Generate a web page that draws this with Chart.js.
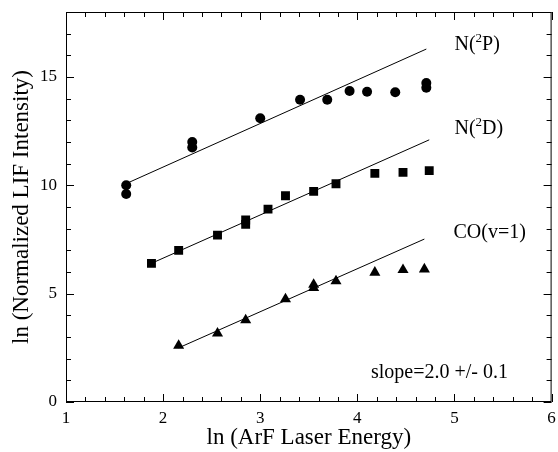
<!DOCTYPE html>
<html>
<head>
<meta charset="utf-8">
<script src="https://cdn.jsdelivr.net/npm/chart.js@4.4.1/dist/chart.umd.min.js"></script>
<style>
  html, body { margin: 0; padding: 0; background: #fff; }
  #wrap { width: 558px; height: 452px; }
</style>
</head>
<body>
<div id="wrap"><canvas id="myChart"></canvas></div>
<script>
// N(2P) circles
var n2pX = [1.62, 1.62, 2.30, 2.30, 3.00, 3.41, 3.69, 3.92, 4.10, 4.39, 4.71, 4.71];
var n2pY = [10.0, 9.6, 12.0, 11.75, 13.1, 13.95, 13.95, 14.35, 14.32, 14.3, 14.72, 14.5];
// N(2D) squares
var n2dX = [1.88, 2.16, 2.56, 2.85, 2.85, 3.08, 3.26, 3.55, 3.78, 4.18, 4.47, 4.74];
var n2dY = [6.4, 7.0, 7.7, 8.4, 8.2, 8.9, 9.52, 9.72, 10.07, 10.55, 10.6, 10.68];
// CO(v=1) triangles
var coX = [2.16, 2.56, 2.85, 3.26, 3.55, 3.55, 3.78, 4.18, 4.47, 4.69];
var coY = [2.6, 3.17, 3.78, 4.75, 5.27, 5.42, 5.58, 5.98, 6.1, 6.13];
// fitted lines (end points)
var fitPX = [1.62, 4.71], fitPY = [10.08, 16.29];
var fitDX = [1.88, 4.74], fitDY = [6.4, 12.1];
var fitCX = [2.16, 4.69], fitCY = [2.5, 7.52];

var xTitle = 'ln (ArF Laser Energy)';
var yTitle = 'ln (Normalized LIF Intensity)';

function pts(xs, ys) {
  return xs.map(function (x, i) { return { x: x, y: ys[i] }; });
}

var serif = '"Liberation Serif", "Times New Roman", serif';

// draw "N(" + superscript + "P)" style label
function supLabel(c, pre, sup, post, x, y) {
  c.font = '20px ' + serif;
  c.fillText(pre, x, y);
  x += c.measureText(pre).width;
  c.font = '13px ' + serif;
  c.fillText(sup, x, y - 6);
  x += c.measureText(sup).width;
  c.font = '20px ' + serif;
  c.fillText(post, x, y);
}

const framePlugin = {
  id: 'frame',
  afterDraw(chart) {
    const c = chart.ctx;
    const xs = chart.scales.x, ys = chart.scales.y;
    const a = chart.chartArea;
    c.save();
    c.strokeStyle = '#000';
    c.lineWidth = 1;
    c.strokeRect(a.left + 0.5, a.top + 0.5, a.right - a.left - 1, a.bottom - a.top - 1);
    c.beginPath();
    for (let i = 0; i <= 25; i++) {
      const v = 1 + i * 0.2;
      const px = Math.round(xs.getPixelForValue(v)) + 0.5;
      const len = (i % 5 === 0) ? 8 : 5;
      c.moveTo(px, a.bottom); c.lineTo(px, a.bottom - len);
      c.moveTo(px, a.top); c.lineTo(px, a.top + len);
    }
    for (let v = 0; v <= 18; v++) {
      const py = Math.round(ys.getPixelForValue(v)) + 0.5;
      const len = (v % 5 === 0) ? 8 : 5;
      c.moveTo(a.left, py); c.lineTo(a.left + len, py);
      c.moveTo(a.right, py); c.lineTo(a.right - len, py);
    }
    c.stroke();
    // text labels
    c.fillStyle = '#000';
    c.textBaseline = 'middle';
    c.textAlign = 'left';
    supLabel(c, 'N(', '2', 'P)', xs.getPixelForValue(5.0), ys.getPixelForValue(16.5));
    supLabel(c, 'N(', '2', 'D)', xs.getPixelForValue(5.0), ys.getPixelForValue(12.6));
    c.font = '20px ' + serif;
    c.fillText('CO(v=1)', xs.getPixelForValue(4.99), ys.getPixelForValue(7.8));
    c.fillText('slope=2.0 +/- 0.1', xs.getPixelForValue(4.14), ys.getPixelForValue(1.33));
    c.restore();
  }
};

const ctx = document.getElementById('myChart').getContext('2d');
const myChart = new Chart(ctx, {
  type: 'scatter',
  data: {
    datasets: [
      { label: 'N(2P)', data: pts(n2pX, n2pY), pointStyle: 'circle', pointRadius: 5,
        backgroundColor: '#000', borderColor: '#000', borderWidth: 0 },
      { label: 'N(2D)', data: pts(n2dX, n2dY), pointStyle: 'rect', pointRadius: 6.3,
        backgroundColor: '#000', borderColor: '#000', borderWidth: 0 },
      { label: 'CO(v=1)', data: pts(coX, coY), pointStyle: 'triangle', pointRadius: 6.4,
        backgroundColor: '#000', borderColor: '#000', borderWidth: 0 },
      { type: 'line', label: 'fit P', data: pts(fitPX, fitPY), showLine: true, pointRadius: 0,
        borderColor: '#000', borderWidth: 1 },
      { type: 'line', label: 'fit D', data: pts(fitDX, fitDY), showLine: true, pointRadius: 0,
        borderColor: '#000', borderWidth: 1 },
      { type: 'line', label: 'fit C', data: pts(fitCX, fitCY), showLine: true, pointRadius: 0,
        borderColor: '#000', borderWidth: 1 }
    ]
  },
  plugins: [framePlugin],
  options: {
    responsive: true,
    maintainAspectRatio: false,
    animation: false,
    layout: { padding: { top: 12, right: 4, left: 0, bottom: 0 } },
    plugins: {
      legend: { display: false },
      tooltip: { enabled: false }
    },
    scales: {
      x: {
        type: 'linear', min: 1, max: 6,
        grid: { display: false, drawTicks: false },
        border: { display: false },
        ticks: { stepSize: 1, color: '#000', padding: 6, font: { family: serif, size: 17 } },
        title: { display: true, text: xTitle, color: '#000', padding: { top: 0, bottom: 0 },
                 font: { family: serif, size: 23 } },
        afterFit: function (s) { s.height = 50; s.paddingLeft = 0; s.paddingRight = 0; }
      },
      y: {
        type: 'linear', min: 0, max: 18,
        grid: { display: false, drawTicks: false },
        border: { display: false },
        ticks: { stepSize: 5, includeBounds: false, color: '#000', padding: 9,
                 font: { family: serif, size: 17 } },
        title: { display: true, text: yTitle, color: '#000', padding: { top: 8, bottom: 0 },
                 font: { family: serif, size: 23 } },
        afterFit: function (s) { s.width = 66; s.paddingTop = 0; s.paddingBottom = 0; }
      }
    }
  }
});
</script>
</body>
</html>
